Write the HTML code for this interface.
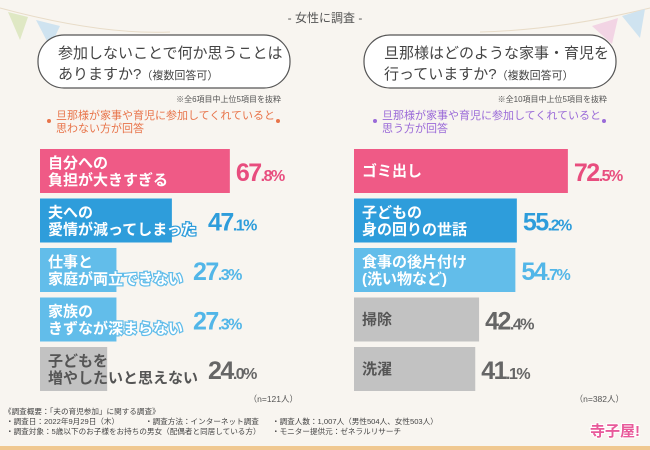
<!DOCTYPE html>
<html><head><meta charset="utf-8"><style>
body{margin:0;width:650px;height:450px;overflow:hidden;background:#f8f5f0;font-family:"Liberation Sans","Noto Sans CJK JP",sans-serif}
svg{display:block}
</style></head><body>
<svg width="650" height="450">
<g>
<path d="M0,8 Q100,35 170,32" stroke="#e8dcc8" fill="none"/>
<path d="M480,32 Q560,30 650,8" stroke="#e8dcc8" fill="none"/>
<polygon points="8,12 28,17 20,40" fill="#dfe8c4"/>
<polygon points="36,20 60,26 50,47" fill="#cfe3f0"/>
<polygon points="592,26 618,18 612,44" fill="#f2d4e4"/>
<polygon points="622,16 645,9 640,38" fill="#cfe3f0"/>
</g>
<text x="325" y="22" text-anchor="middle" font-size="12" fill="#555">-  女性に調査  -</text>
<rect x="0" y="446" width="650" height="4" fill="#f0c890"/>
<g id="left"></g>
<g id="right"></g>
<g font-size="7.6" fill="#444">
<text x="4" y="414">《調査概要：「夫の育児参加」に関する調査》</text>
<text x="6" y="424">・調査日：2022年9月29日（木）</text>
<text x="145" y="424">・調査方法：インターネット調査</text>
<text x="6" y="434">・調査対象：5歳以下のお子様をお持ちの男女（配偶者と同居している方）</text>
<text x="272" y="424">・調査人数：1,007人（男性504人、女性503人）</text>
<text x="272" y="434">・モニター提供元：ゼネラルリサーチ</text>
</g>
<text x="590" y="436" font-size="15" font-weight="bold" fill="#e85a9a" stroke="#fff" stroke-width="2" paint-order="stroke">寺子屋!</text>
</svg>
<script>
const leftCats=[["自分への","負担が大きすぎる"],["夫への","愛情が減ってしまった"],["仕事と","家庭が両立できない"],["家族の","きずなが深まらない"],["子どもを","増やしたいと思えない"]];
const leftVals=[67.8,47.1,27.3,27.3,24.0];
const rightCats=[["ゴミ出し"],["子どもの","身の回りの世話"],["食事の後片付け","(洗い物など)"],["掃除"],["洗濯"]];
const rightVals=[72.5,55.2,54.7,42.4,41.1];
const leftColorIdx=[0,1,2,2,3];
const rightColorIdx=[0,1,2,3,3];
const colors=["#ef5a86","#2e9ddb","#62bdea","#c2c2c2"];
const valColors=["#e84d7e","#2e9ddb","#52b6e8","#666"];
const NS="http://www.w3.org/2000/svg";
function mk(p,tag,a){const e=document.createElementNS(NS,tag);for(const k in a)e.setAttribute(k,a[k]);p.appendChild(e);return e;}
function panel(id,x0,cx,q1,q2,note,sub1,sub2,subColor,n,cats,vals,cidx,scale,bold){
 const g=document.getElementById(id);
 const b=mk(g,'rect',{x:cx-126,y:35,width:252,height:53,rx:26,fill:'#fff',stroke:'#555','stroke-width':1.2});
 
 
 const t1=mk(g,'text',{x:cx-106,y:58,'font-size':15,fill:'#444'});t1.textContent=q1;
 
 
 const t2=mk(g,'text',{x:cx-106,y:79,'font-size':15,fill:'#444'});t2.textContent=q2[0];
 
 
 const ts=mk(t2,'tspan',{'font-size':11});ts.textContent=q2[1];
 const nt=mk(g,'text',{x:cx+117,y:102,'font-size':8,fill:'#555','text-anchor':'end'});nt.textContent=note;
 
 
 const s1=mk(g,'text',{x:cx-108,y:119,'font-size':11,fill:subColor});s1.textContent=sub1;
 
 
 const s2=mk(g,'text',{x:cx-108,y:132,'font-size':11,fill:subColor});s2.textContent=sub2;
 mk(g,'circle',{cx:cx-115,cy:121,r:2,fill:subColor});mk(g,'circle',{cx:cx+114,cy:121,r:2,fill:subColor});
 vals.forEach((v,i)=>{
  const c=cidx[i];
  const y=149+i*49.5, w=v*scale;
  const r=mk(g,'rect',{x:x0,y:y,width:w,height:44,fill:colors[c]});
  
  
  const lines=cats[i];
  const white=c<3;
  lines.forEach((l,j)=>{
   const yy=lines.length==1?y+27:y+19+j*17;
   const tt=mk(g,'text',{x:x0+8,y:yy,'font-size':15,'font-weight':'bold',fill:white?'#fff':'#555',stroke:white?colors[c]:'#fff','stroke-width':white?2.5:0,'paint-order':'stroke'});
   tt.textContent=l;
   
   
  });
  const lw=Math.max(w,bold?0:Math.max(...lines.map(l=>l.length))*15+12);
  const vt=mk(g,'text',{x:x0+lw+6,y:y+32,'font-size':25,'font-weight':'bold',fill:valColors[c],'letter-spacing':'-1.5'});
  const num=v.toFixed(1).split('.');
  vt.textContent=num[0];
  const s=mk(vt,'tspan',{'font-size':16});s.textContent='.'+num[1]+'%';
  
  
 });
 const nn=mk(g,'text',{x:cx+134,y:402,'font-size':8.5,fill:'#555','text-anchor':'end'});nn.textContent=n;
 
 
}
panel('left',40,164,'参加しないことで何か思うことは',['ありますか?','（複数回答可）'],'※全6項目中上位5項目を抜粋','旦那様が家事や育児に参加してくれていると','思わない方が回答','#e8744a','（n=121人）',leftCats,leftVals,leftColorIdx,2.8,false);
panel('right',354,490,'旦那様はどのような家事・育児を',['行っていますか?','（複数回答可）'],'※全10項目中上位5項目を抜粋','旦那様が家事や育児に参加してくれていると','思う方が回答','#9a6ad8','（n=382人）',rightCats,rightVals,rightColorIdx,2.95,true);
</script>
</body></html>
